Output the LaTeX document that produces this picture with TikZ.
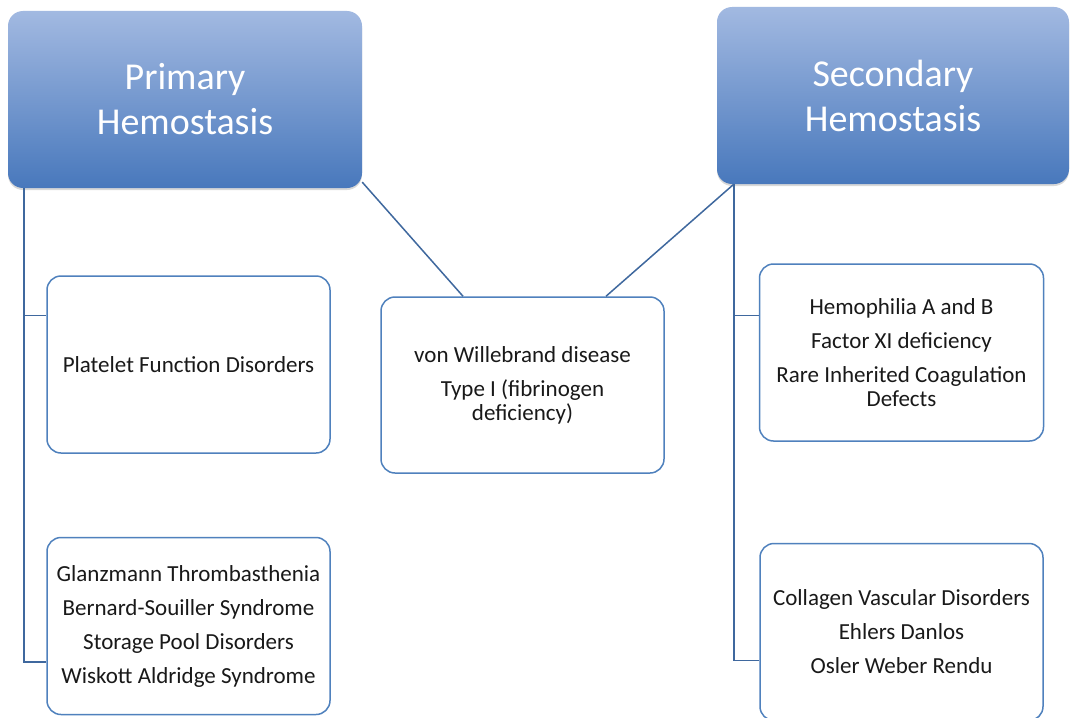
\documentclass[tikz,border=0pt]{standalone}
\usepackage{fontspec}
\setmainfont{Carlito}
\usepackage{tikz}
\usetikzlibrary{shadows}

\definecolor{headtop}{HTML}{A2B9E1}
\definecolor{headbot}{HTML}{4878BC}
\definecolor{boxline}{HTML}{4F81BD}
\definecolor{linkline}{HTML}{3F689E}

\begin{document}
\begin{tikzpicture}[x=1pt,y=-1pt,
    head/.style={rectangle, rounded corners=15pt, minimum width=354pt,
      minimum height=177pt, top color=headtop, bottom color=headbot,
      text=white, align=center, font=\fontsize{38}{45}\selectfont,
      drop shadow={opacity=0.3, shadow xshift=0pt, shadow yshift=-2pt}},
    item/.style={rectangle, rounded corners=14pt, draw=boxline,
      line width=1.5pt, fill=white, minimum width=283pt, minimum height=177pt,
      align=center, text=black!90, font=\fontsize{23}{24}\selectfont},
    link/.style={draw=linkline, line width=1.5pt}]

    \path[use as bounding box, fill=white] (0,0) rectangle (1070,717);

    % the two hemostasis headers
    \node[head] (prim) at (185,99.5) {Primary\\Hemostasis};
    \node[head, minimum width=352pt] (sec) at (893,95.5) {Secondary\\Hemostasis};

    % disorder boxes
    \node[item] (pfd) at (188.5,364.5) {Platelet Function Disorders};
    \node[item] (gta) at (188.5,626) {Glanzmann Thrombasthenia\\[10pt]
      Bernard-Souiller Syndrome\\[10pt]Storage Pool Disorders\\[10pt]
      Wiskott Aldridge Syndrome};
    \node[item, minimum height=176pt] (vwd) at (522.5,385) {von Willebrand disease\\[10pt]
      Type I (fibrinogen\\deficiency)};
    \node[item, minimum width=284pt] (hem) at (901.5,352.5) {Hemophilia A and B\\[10pt]
      Factor XI deficiency\\[10pt]Rare Inherited Coagulation\\Defects};
    \node[item] (col) at (901.5,632) {Collagen Vascular Disorders\\[10pt]
      Ehlers Danlos\\[10pt]Osler Weber Rendu};

    % primary side
    \draw[link] ([xshift=16pt]prim.south west) |- ([yshift=-40pt]pfd.north west);
    \draw[link] ([xshift=16pt]prim.south west) |- ([yshift=53.5pt]gta.south west);
    \draw[link] (prim.-25) -- ([xshift=-59.5pt]vwd.north);

    % secondary side
    \draw[link] ([xshift=17pt]sec.south west) -- ([xshift=83.5pt]vwd.north);
    \draw[link] ([xshift=17pt]sec.south west) |- ([yshift=-52pt]hem.north west);
    \draw[link] ([xshift=17pt]sec.south west) |- ([yshift=-117.5pt]col.north west);
\end{tikzpicture}
\end{document}
